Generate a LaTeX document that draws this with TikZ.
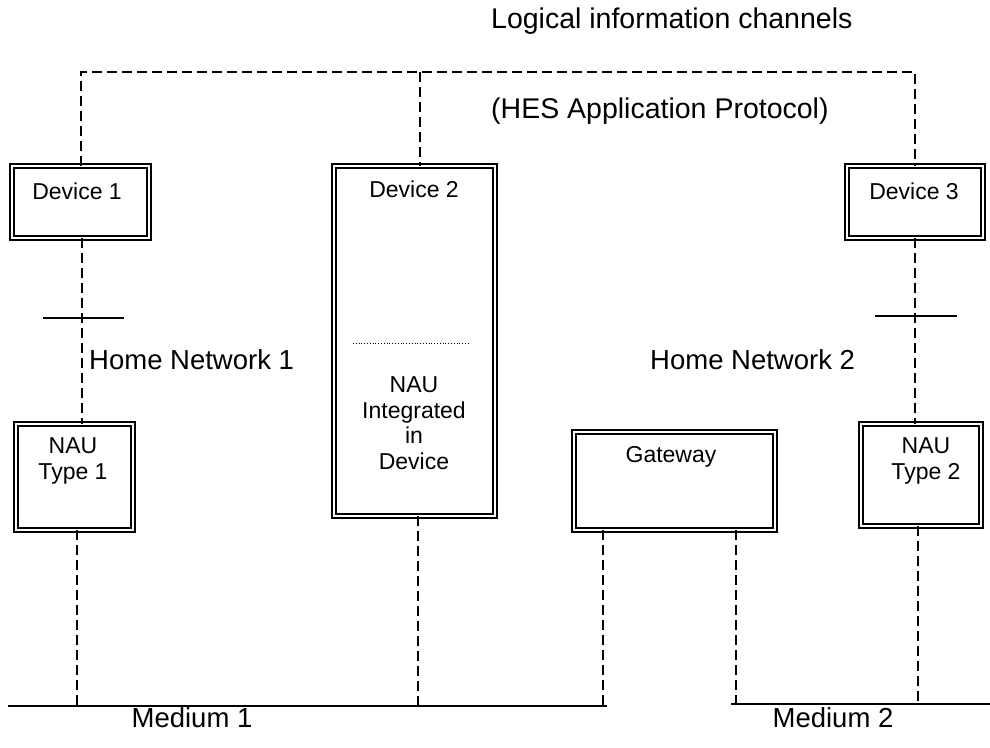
\documentclass[tikz,border=0pt]{standalone}
\usepackage{fontspec}
\setmainfont{Liberation Sans}
\begin{document}
\begin{tikzpicture}[x=1pt,y=-1pt,
  devbox/.style={draw, line width=2pt, double, double distance=2.3pt, inner sep=0pt, outer sep=0pt},
  boxtext/.style={font=\fontsize{23}{25.5}\selectfont, align=center, inner sep=0pt},
  bigtext/.style={font=\fontsize{27.5}{32}\selectfont, inner sep=0pt},
  toptext/.style={font=\fontsize{28.5}{32}\selectfont, inner sep=0pt, anchor=west},
  link/.style={line width=1.3pt, dash pattern=on 10pt off 5pt},
  tick/.style={line width=1.2pt},
  medium/.style={line width=2.5pt}
]
\useasboundingbox (0,0) rectangle (990,747);

% boxes
\node[devbox, minimum width=137pt, minimum height=72pt]  (dev1) at (80.5,202) {};
\node[devbox, minimum width=161pt, minimum height=350pt] (dev2) at (414.5,341) {};
\node[devbox, minimum width=136pt, minimum height=72pt]  (dev3) at (915,202) {};
\node[devbox, minimum width=117pt, minimum height=106pt] (nau1) at (74.5,477) {};
\node[devbox, minimum width=120pt, minimum height=102pt] (nau2) at (921,475) {};
\node[devbox, minimum width=201pt, minimum height=98pt]  (gw)   at (674.5,481) {};

% box texts
\node[boxtext] (t1) at (77,191) {Device 1};
\node[boxtext] (t2) at (414,189) {Device 2};
\node[boxtext] (t3) at (914,191) {Device 3};
\node[boxtext] (tn1) at (73,461) {NAU\\Type 1};
\node[boxtext] (tn2) at (926,461) {NAU\\Type 2};
\node[boxtext] (tgw) at (671,457) {Gateway};
\node[boxtext] (tnau) at (414,423) {NAU\\Integrated\\in\\Device};
\coordinate (dl) at (353,343);
\coordinate (dr) at (470,343);
\draw[line width=1pt, dash pattern=on 1pt off 1.8pt] (dl) -- (dr);

% free labels
\node[toptext] (log) at (491,21) {Logical information channels};
\node[toptext] (hes) at (491,111) {(HES Application Protocol)};
\node[bigtext, anchor=west] (hn1) at (89,360) {Home Network 1};
\node[bigtext, anchor=west] (hn2) at (650,360) {Home Network 2};
\node[bigtext] (m1) at (192,718) {Medium 1};
\node[bigtext] (m2) at (833,718) {Medium 2};

% logical channel
\coordinate (cl) at (81,72);
\coordinate (cm) at (420,72);
\coordinate (cr) at (915,72);
\draw[link] (cl |- dev1.north) -- (cl) -- (cr) -- (cr |- dev3.north);
\draw[link] (cm) -- (cm |- dev2.north);

% home network links
\coordinate (h1) at (82,318);
\coordinate (h2) at (915,316);
\draw[link] (h1 |- dev1.south) -- (h1 |- nau1.north);
\draw[link] (h2 |- dev3.south) -- (h2 |- nau2.north);
\coordinate (k1l) at (43,318);
\coordinate (k1r) at (124,318);
\coordinate (k2l) at (875,316);
\coordinate (k2r) at (957,316);
\draw[tick] (k1l) -- (k1r);
\draw[tick] (k2l) -- (k2r);

% media
\coordinate (m1l) at (8,706);
\coordinate (m1r) at (607,706);
\coordinate (m2l) at (731,704);
\coordinate (m2r) at (990,704);
\draw[medium] (m1l) -- (m1r);
\draw[medium] (m2l) -- (m2r);

\coordinate (a1) at (77,706);
\coordinate (a2) at (418,706);
\coordinate (a3) at (603,706);
\coordinate (a4) at (736,704);
\coordinate (a5) at (918,704);
\draw[link] (a1 |- nau1.south) -- (a1);
\draw[link] (a2 |- dev2.south) -- (a2);
\draw[link] (a3 |- gw.south) -- (a3);
\draw[link] (a4 |- gw.south) -- (a4);
\draw[link] (a5 |- nau2.south) -- (a5);
\end{tikzpicture}
\end{document}
